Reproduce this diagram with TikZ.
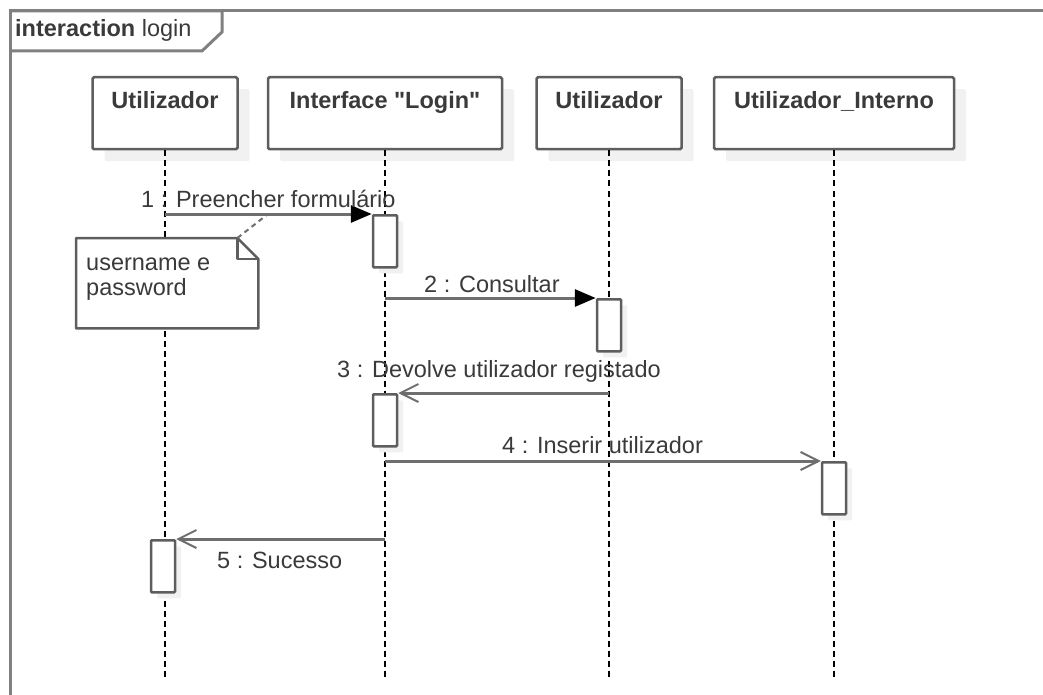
\documentclass[tikz,border=0pt]{standalone}
\usepackage{fontspec}
% no TeX ligature mapping, so " stays a straight quote
\newfontfamily\uifont{Liberation Sans}
\usetikzlibrary{arrows.meta,shadows}
\definecolor{linegray}{HTML}{6E6E6E}
\definecolor{boxgray}{HTML}{5E5E5E}
\definecolor{txtgray}{HTML}{3A3A3A}
\definecolor{shadowgray}{HTML}{F1F1F1}
\tikzset{
  txt/.style={font=\uifont\fontsize{23.5}{24}\selectfont, text=txtgray, inner sep=0pt},
  head/.style={draw=boxgray, line width=2.5pt, fill=white, rounded corners=1.5pt,
    font=\uifont\fontsize{23.5}{24}\selectfont\bfseries, text=txtgray,
    inner xsep=0pt, inner ysep=8pt, text height=23pt, text depth=33pt,
    anchor=north, drop shadow={shadow xshift=12pt, shadow yshift=-12pt, fill=shadowgray, opacity=1}},
  activation/.style={draw=boxgray, line width=2.5pt, fill=white, rounded corners=1pt,
    minimum width=24pt, minimum height=52pt, inner sep=0pt, anchor=north,
    drop shadow={shadow xshift=6pt, shadow yshift=-6pt, fill=shadowgray, opacity=1}},
  lifeline/.style={draw=black, line width=2pt, dash pattern=on 6pt off 4pt},
  syncmsg/.style={draw=linegray, line width=3pt, -{Triangle[length=21pt,width=17pt,fill=black,color=black]}},
  replymsg/.style={draw=linegray, line width=3pt, -{Straight Barb[length=18pt,width=18pt,line width=2pt]}},
  frameline/.style={draw=black!50, line width=3pt},
  notebox/.style={draw=boxgray, line width=2.5pt, line join=round},
}
\begin{document}
\begin{tikzpicture}[x=1pt,y=-1pt]
  \useasboundingbox (0,0) rectangle (1043,695);

  % interaction frame and its name tab
  \draw[frameline] (10,700) -- (10,11) -- (1050,11);
  \draw[frameline] (10,11) -- (222,11) -- (222,32) -- (202,51) -- (10,51);
  \node[txt, anchor=base west] (title) at (15,37) {\textbf{interaction} login};

  % lifeline heads
  \node[head, minimum width=145pt] (h1) at (165,76) {Utilizador};
  \node[head, minimum width=234pt] (h2) at (385,76) {Interface "Login"};
  \node[head, minimum width=145pt] (h3) at (609,76) {Utilizador};
  \node[head, minimum width=240pt] (h4) at (834,76) {Utilizador\_Interno};

  % lifeline ends
  \coordinate (e1) at (165,680);
  \coordinate (e2) at (385,680);
  \coordinate (e3) at (609,680);
  \coordinate (e4) at (834,680);

  \draw[lifeline] (h1.south) -- (e1);
  \draw[lifeline] (h2.south) -- (e2);
  \draw[lifeline] (h3.south) -- (e3);
  \draw[lifeline] (h4.south) -- (e4);

  % activation bars
  \node[activation] (a1) at (385,214) {};
  \node[activation] (a2) at (609,298) {};
  \node[activation] (a3) at (385,393) {};
  \node[activation] (a4) at (834,461) {};
  \node[activation] (a5) at (163,539) {};

  % messages
  \draw[syncmsg] (a1.north west -| h1) -- (a1.north west);
  \node[txt, anchor=base west] (m1) at (141,207) {1 : Preencher formulário};

  \draw[syncmsg] (a2.north west -| h2) -- (a2.north west);
  \node[txt, anchor=base west] (m2) at (424,292) {2 : Consultar};

  \draw[replymsg] (a3.north east -| h3) -- (a3.north east);
  \node[txt, anchor=base west] (m3) at (337,377) {3 : Devolve utilizador registado};

  \draw[replymsg] (a4.north west -| h2) -- (a4.north west);
  \node[txt, anchor=base west] (m4) at (502,453) {4 : Inserir utilizador};

  \draw[replymsg] (a5.north east -| h2) -- (a5.north east);
  \node[txt, anchor=base west] (m5) at (217,568) {5 : Sucesso};

  % note attached to message 1
  \node[minimum width=182pt, minimum height=90pt, inner sep=0pt, anchor=north west] (note) at (76,238) {};
  \draw[notebox, fill=white]
    (note.north west) -- ([xshift=-21pt]note.north east) -- ([yshift=-21pt]note.north east)
    -- (note.south east) -- (note.south west) -- cycle;
  \draw[notebox] ([xshift=-21pt]note.north east) -- ([xshift=-21pt,yshift=-21pt]note.north east)
    -- ([yshift=-21pt]note.north east);
  \node[txt, anchor=north west, align=left] (notetext) at (86,253) {\strut username e\\password};
  \coordinate (anchor1) at (268,214);
  \draw[draw=linegray, line width=2pt, dash pattern=on 5pt off 4pt]
    ([xshift=-21pt]note.north east) -- (anchor1);
\end{tikzpicture}
\end{document}
